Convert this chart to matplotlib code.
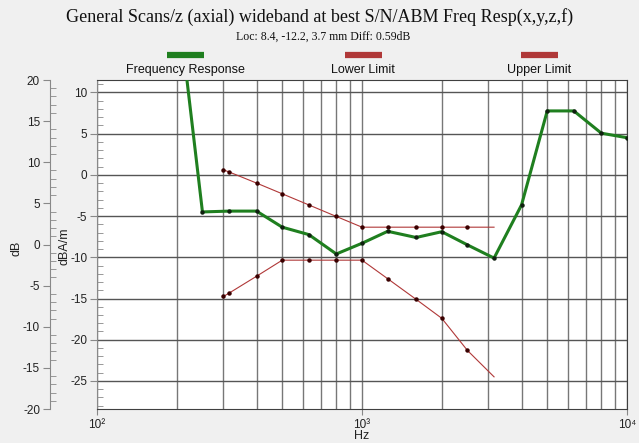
import matplotlib
matplotlib.use("Agg")
import matplotlib.pyplot as plt
from matplotlib.lines import Line2D
from matplotlib.ticker import MultipleLocator, LogLocator, NullFormatter, FixedLocator

plt.rcParams['font.family'] = ['Liberation Sans', 'DejaVu Sans']
plt.rcParams['axes.unicode_minus'] = False

# frequency response (green)
resp_freq = [200, 250, 315, 400, 500, 630, 800, 1000, 1250, 1600, 2000, 2500, 3150,
             4000, 5000, 6300, 8000, 10000]
resp_db = [22.0, -4.5, -4.4, -4.4, -6.35, -7.25, -9.6, -8.3, -6.85, -7.6, -6.9, -8.5, -10.1,
           -3.65, 7.75, 7.75, 5.05, 4.5]

# limits (red)
lim_freq = [300, 315, 400, 500, 630, 800, 1000, 1250, 1600, 2000, 2500, 3150]
upper_db = [0.6, 0.35, -1.0, -2.3, -3.65, -5.05, -6.35, -6.35, -6.35, -6.35, -6.35, -6.35]
lower_db = [-14.75, -14.35, -12.3, -10.35, -10.35, -10.35, -10.35, -12.6, -15.1, -17.4, -21.3, -24.5]

legend_names = ["Frequency Response", "Lower Limit", "Upper Limit"]
title = "General Scans/z (axial) wideband at best S/N/ABM Freq Resp(x,y,z,f)"
subtitle = "Loc: 8.4, -12.2, 3.7 mm Diff: 0.59dB"

GREEN = '#1f7f1f'
RED = '#b03838'
BG = '#f0f0f0'

fig = plt.figure(figsize=(6.39, 4.43), dpi=100, facecolor=BG)
ax = fig.add_axes([97 / 639, 1 - 409 / 443, 530 / 639, 329 / 443])
ax.set_facecolor('white')

ax.set_xscale('log')
ax.set_xlim(100, 10000)
ax.set_ylim(-28.4, 11.5)

# grid
ax.xaxis.set_major_locator(FixedLocator([100, 1000, 10000]))
ax.xaxis.set_minor_locator(LogLocator(base=10, subs=range(2, 10)))
ax.xaxis.set_minor_formatter(NullFormatter())
ax.set_xticklabels(['10²', '10³', '10⁴'])
ax.yaxis.set_major_locator(MultipleLocator(5))
ax.yaxis.set_minor_locator(MultipleLocator(1))
ax.grid(True, which='both', axis='x', color='#777777', lw=1)
ax.grid(True, which='major', axis='y', color='#555555', lw=1)
ax.set_axisbelow(True)

ax.plot(lim_freq, upper_db, color=RED, lw=0.8, marker='o', ms=2.2,
        mfc='#3a0000', mec='#3a0000', markevery=slice(0, -1), zorder=3)
ax.plot(lim_freq, lower_db, color=RED, lw=0.8, marker='o', ms=2.2,
        mfc='#3a0000', mec='#3a0000', markevery=slice(0, -1), zorder=3)
ax.plot(resp_freq, resp_db, color=GREEN, lw=2.2, marker='o', ms=2.2,
        mfc='#102010', mec='#102010', zorder=4)

for s in ['top', 'right', 'bottom']:
    ax.spines[s].set_color('#404040')
ax.spines['left'].set_color('#888888')
ax.tick_params(axis='y', which='major', direction='out', length=5, color='#888888',
               labelsize=8.5, labelcolor='#222222', pad=2)
ax.tick_params(axis='y', which='minor', direction='in', length=4, color='#888888')
ax.tick_params(axis='x', which='major', direction='out', length=4, color='#888888',
               labelsize=8.5, labelcolor='#222222', pad=3)
ax.tick_params(axis='x', which='minor', length=0)

# outer dB axis
ax2 = ax.twinx()
ax2.set_ylim(-20, 20)
ax2.yaxis.set_ticks_position('left')
ax2.spines['left'].set_position(('outward', 34))
ax2.spines['left'].set_color('#888888')
for s in ['top', 'right', 'bottom']:
    ax2.spines[s].set_visible(False)
ax2.yaxis.set_major_locator(MultipleLocator(5))
ax2.yaxis.set_minor_locator(MultipleLocator(1))
ax2.tick_params(axis='y', which='major', direction='out', length=5, color='#888888',
                labelsize=8.5, labelcolor='#222222', pad=2)
ax2.tick_params(axis='y', which='minor', direction='in', length=4, color='#888888')

fig.text(16 / 639, 1 - 248 / 443, 'dB', rotation=90, ha='center', va='center',
         fontsize=9, color='#222222')
fig.text(65 / 639, 1 - 246 / 443, 'dBA/m', rotation=90, ha='center', va='center',
         fontsize=9, color='#222222')
fig.text(362 / 639, 1 - 436 / 443, 'Hz', ha='center', va='center', fontsize=9, color='#222222')

fig.text(320 / 639, 1 - 17 / 443, title, ha='center', va='center',
         fontsize=13, family='Liberation Serif', color='#111111')
fig.text(323 / 639, 1 - 37 / 443, subtitle, ha='center', va='center',
         fontsize=8.5, family='Liberation Serif', color='#111111')

# legend bars above the plot
leg_x = [185, 363, 539]
leg_col = [GREEN, RED, RED]
for name, xc, c in zip(legend_names, leg_x, leg_col):
    fig.add_artist(Line2D([(xc - 18.5) / 639, (xc + 18.5) / 639], [1 - 55 / 443] * 2,
                          color=c, lw=4.5, transform=fig.transFigure, solid_capstyle='butt'))
    fig.text(xc / 639, 1 - 70 / 443, name, ha='center', va='center', fontsize=9,
             color='#111111')

fig.savefig('out.png', dpi=100, facecolor=BG)
